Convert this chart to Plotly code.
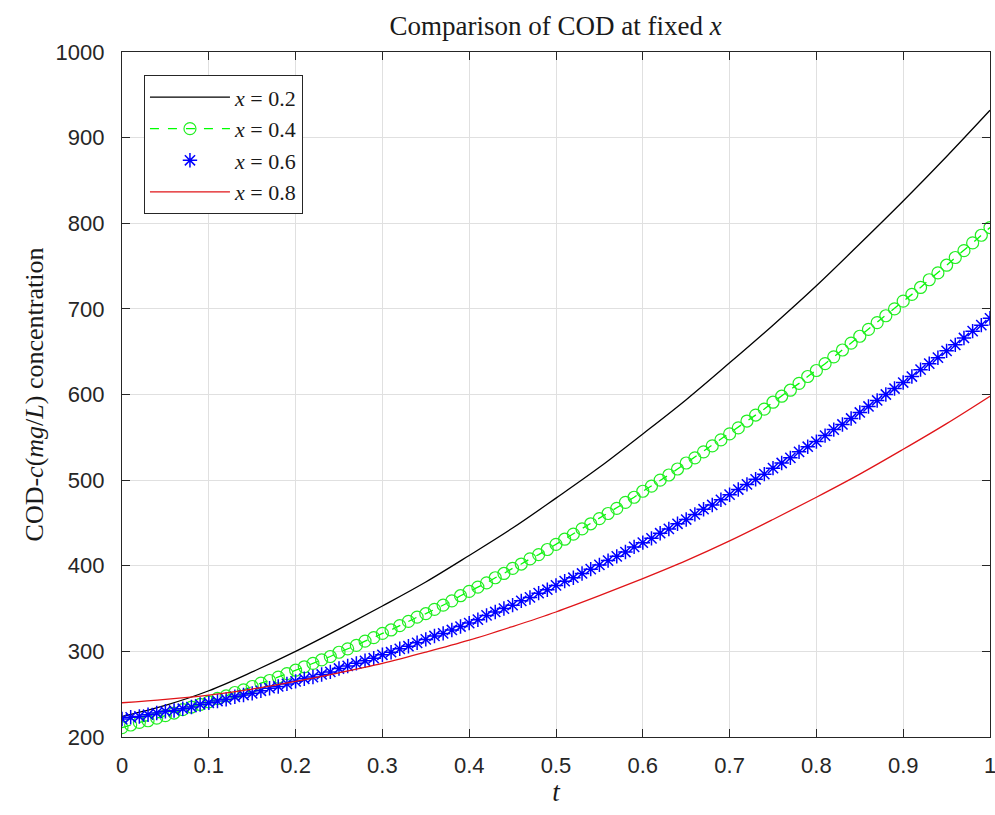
import plotly.graph_objects as go

# time grid for the marker series (step 0.01) and line series (step 0.05)
t_fine = [round(i * 0.01, 2) for i in range(101)]
t_coarse = [round(i * 0.05, 2) for i in range(21)]

# x = 0.2 (black line), values at t_coarse
cod_x02 = [224, 237, 254, 276, 300, 326, 353, 381, 412, 444, 479,
           515, 554, 594, 637, 681, 727, 776, 826, 878, 932]

# x = 0.4 (green circles, dashed), values at t_fine
cod_x04 = [211, 214, 217, 219, 222, 225, 228, 232, 235, 238,
           241, 245, 248, 252, 255, 259, 263, 266, 270, 274,
           278, 282, 286, 290, 294, 299, 303, 307, 312, 316,
           321, 325, 330, 335, 340, 344, 349, 354, 359, 365,
           370, 375, 380, 386, 391, 397, 402, 408, 413, 419,
           425, 431, 437, 443, 449, 455, 461, 467, 474, 480,
           487, 493, 500, 506, 513, 520, 526, 533, 540, 547,
           554, 561, 569, 576, 583, 591, 598, 605, 613, 621,
           628, 636, 644, 652, 660, 668, 676, 684, 692, 700,
           709, 717, 725, 734, 742, 751, 760, 768, 777, 786,
           795]

# x = 0.6 (blue asterisks), values at t_fine
cod_x06 = [221, 223, 224, 226, 228, 230, 231, 233, 235, 238,
           240, 242, 244, 247, 249, 251, 254, 257, 259, 262,
           265, 268, 270, 273, 276, 280, 283, 286, 289, 292,
           296, 299, 303, 306, 310, 314, 318, 321, 325, 329,
           333, 337, 342, 346, 350, 354, 359, 363, 368, 372,
           377, 382, 386, 391, 396, 401, 406, 411, 416, 422,
           427, 432, 438, 443, 449, 454, 460, 466, 471, 477,
           483, 489, 495, 501, 507, 514, 520, 526, 533, 539,
           545, 552, 559, 565, 572, 579, 586, 593, 600, 607,
           614, 621, 629, 636, 643, 651, 658, 666, 674, 681,
           689]

# x = 0.8 (red line), values at t_coarse
cod_x08 = [240, 244, 249, 256, 265, 275, 286, 299, 313, 329, 346,
           365, 385, 406, 429, 454, 480, 507, 536, 566, 598]

x_ticks = [round(i * 0.1, 1) for i in range(11)]
x_ticklabels = ["0", "0.1", "0.2", "0.3", "0.4", "0.5", "0.6", "0.7", "0.8", "0.9", "1"]
y_ticks = [200, 300, 400, 500, 600, 700, 800, 900, 1000]

serif = "Liberation Serif, Times New Roman, serif"
sans = "Liberation Sans, Arial, sans-serif"

fig = go.Figure()
fig.add_trace(go.Scatter(x=t_coarse, y=cod_x02, mode="lines", name="<i>x</i> = 0.2",
                         line=dict(color="black", width=1.3, shape="spline")))
fig.add_trace(go.Scatter(x=t_fine, y=cod_x04, mode="lines+markers", name="<i>x</i> = 0.4",
                         line=dict(color="#00FF00", width=1.3, dash="dash"),
                         marker=dict(symbol="circle-open", size=12, color="#22EE22",
                                     line=dict(width=1.2, color="#22EE22"))))
fig.add_trace(go.Scatter(x=t_fine, y=cod_x06, mode="markers", name="<i>x</i> = 0.6",
                         marker=dict(symbol="asterisk-open", size=12, color="#0000FF",
                                     line=dict(width=1.5, color="#0000FF"))))
fig.add_trace(go.Scatter(x=t_coarse, y=cod_x08, mode="lines", name="<i>x</i> = 0.8",
                         line=dict(color="#E01418", width=1.3, shape="spline")))

axis_common = dict(
    showline=True, linecolor="#262626", linewidth=1.2, mirror="ticks",
    ticks="inside", ticklen=8, tickcolor="#262626", tickwidth=1,
    showgrid=True, gridcolor="#e0e0e0", gridwidth=1, zeroline=False,
    ticklabeloverflow="allow", automargin=False,
    tickfont=dict(family=sans, size=22, color="#262626"),
)

fig.update_layout(
    width=995, height=815,
    margin=dict(l=122, r=5, t=52, b=78),
    paper_bgcolor="white", plot_bgcolor="white",
    title=dict(text="Comparison of COD at fixed <i>x</i>", x=0.5584, xanchor="center",
               y=0.969, yanchor="middle",
               font=dict(family=serif, size=27, color="#1a1a1a")),
    xaxis=dict(range=[0, 1], tickvals=x_ticks, ticktext=x_ticklabels,
               ticklabelstandoff=8,
               title=dict(text="<i>t</i>", font=dict(family=serif, size=27, color="#1a1a1a"),
                          standoff=4),
               **axis_common),
    yaxis=dict(range=[200, 1000], tickvals=y_ticks,
               ticklabelstandoff=12,
               title=dict(text="COD-<i>c</i>(<i>mg</i>/<i>L</i>) concentration",
                          font=dict(family=serif, size=26, color="#1a1a1a"), standoff=4),
               **axis_common),
    legend=dict(x=0.0253, y=0.966, xanchor="left", yanchor="top",
                bgcolor="white", bordercolor="#262626", borderwidth=1,
                font=dict(family=serif, size=22, color="#1a1a1a"),
                itemwidth=80, tracegroupgap=0),
    showlegend=True,
)

fig.write_html("out.html")
